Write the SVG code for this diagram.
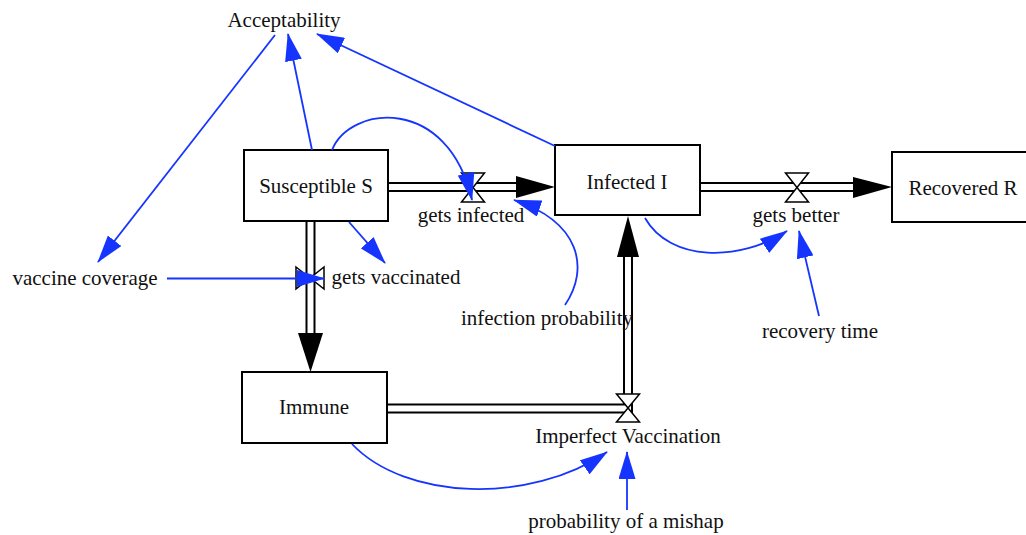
<svg xmlns="http://www.w3.org/2000/svg" width="1026" height="535" viewBox="0 0 1026 535">
<defs>
<style>
.stock{fill:#fff;stroke:#000;stroke-width:2}
.lbl{font-family:"Liberation Serif","Times New Roman",serif;font-size:21px;fill:#111;text-anchor:middle}
.pipeo{fill:none;stroke:#000;stroke-width:10;stroke-linejoin:miter}
.pipei{fill:none;stroke:#fff;stroke-width:6;stroke-linejoin:miter}
.valve{fill:#fff;stroke:#000;stroke-width:1.5;stroke-linejoin:miter}
.flowhead{fill:#000}
.link{fill:none;stroke:#1535ff;stroke-width:1.8;marker-end:url(#ah)}
</style>
<marker id="ah" markerUnits="userSpaceOnUse" markerWidth="28" markerHeight="17" refX="27" refY="8.5" orient="auto" viewBox="0 0 28 17">
<path d="M0,0 L28,8.5 L0,17 Z" fill="#1535ff"/>
</marker>
</defs>
<rect width="1026" height="535" fill="#fff"/>

<g id="flows">
<path class="pipeo" d="M388,187 L520,187"/>
<path class="pipei" d="M386,187 L522,187"/>
<polygon class="flowhead" points="516,176 555,187 516,198"/>
<path class="pipeo" d="M700,187 L856,187"/>
<path class="pipei" d="M698,187 L858,187"/>
<polygon class="flowhead" points="853,177 892,187 853,198"/>
<path class="pipeo" d="M310.5,221 L310.5,336"/>
<path class="pipei" d="M310.5,219 L310.5,338"/>
<polygon class="flowhead" points="298,333 310.5,372 323,333"/>
<path class="pipeo" d="M387,408.5 L628,408.5 L628,254"/>
<path class="pipei" d="M385,408.5 L628,408.5 L628,252"/>
<polygon class="flowhead" points="617,257 628,216 639,257"/>
</g>

<g id="stock-susceptible"><rect class="stock" x="244" y="150" width="144" height="71"/><text class="lbl" x="316" y="193">Susceptible S</text></g>
<g id="stock-infected"><rect class="stock" x="555" y="145" width="145" height="70"/><text class="lbl" x="627" y="189">Infected I</text></g>
<g id="stock-recovered"><rect class="stock" x="892" y="152" width="146" height="70"/><text class="lbl" x="963" y="195">Recovered R</text></g>
<g id="stock-immune"><rect class="stock" x="242" y="372" width="145" height="71"/><text class="lbl" x="314" y="414">Immune</text></g>

<g id="valve-gets-infected"><path class="valve" d="M461.5,173 L484.5,173 L473,187.5 L484.5,202 L461.5,202 L473,187.5 Z"/><text class="lbl" x="471" y="222">gets infected</text></g>
<g id="valve-gets-better"><path class="valve" d="M785.5,173 L808.5,173 L797,187.5 L808.5,202 L785.5,202 L797,187.5 Z"/><text class="lbl" x="796" y="222">gets better</text></g>
<g id="valve-gets-vaccinated"><path class="valve" d="M296,267 L310,278 L324,267 L324,289 L310,278 L296,289 Z"/><text class="lbl" x="396" y="284">gets vaccinated</text></g>
<g id="valve-imperfect-vaccination"><path class="valve" d="M616.5,394 L639.5,394 L628,408 L639.5,422 L616.5,422 L628,408 Z"/><text class="lbl" x="628" y="443">Imperfect Vaccination</text></g>

<g id="aux-acceptability"><text class="lbl" x="284" y="27">Acceptability</text></g>
<g id="aux-vaccine-coverage"><text class="lbl" x="85" y="285">vaccine coverage</text></g>
<g id="aux-infection-probability"><text class="lbl" x="547" y="325">infection probability</text></g>
<g id="aux-recovery-time"><text class="lbl" x="820" y="338">recovery time</text></g>
<g id="aux-probability-of-a-mishap"><text class="lbl" x="626" y="528">probability of a mishap</text></g>

<g id="connectors">
<path class="link" d="M312,150 L288,34"/>
<path class="link" d="M555,146 L317,34"/>
<path class="link" d="M275,35 L98,262"/>
<path class="link" d="M167,278.5 L324,278.5"/>
<path class="link" d="M349,222 L385,263"/>
<path class="link" d="M332,150 C350,105 448,95 472,200"/>
<path class="link" d="M565,305 C590,268 580,222 514,200"/>
<path class="link" d="M645,218 C670,262 740,262 787,231"/>
<path class="link" d="M819,316 L799,231"/>
<path class="link" d="M352,444 C405,500 530,505 607,452"/>
<path class="link" d="M627,510 L627,452"/>
</g>
</svg>
